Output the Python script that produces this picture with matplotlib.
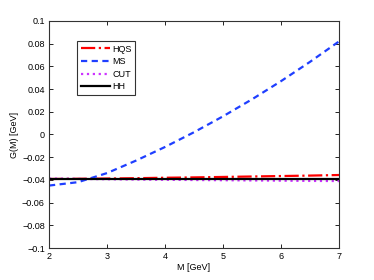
import numpy as np
import matplotlib.pyplot as plt

plt.rcParams['font.family'] = ['Liberation Sans', 'DejaVu Sans']

# values
M = [2.0, 2.5, 3.0, 3.5, 4.0, 4.5, 5.0, 5.5, 6.0, 6.5, 7.0]
hqs = [-0.0392, -0.0390, -0.0388, -0.0385, -0.0381, -0.0378, -0.0374, -0.0370, -0.0366, -0.0362, -0.0357]
ms = [-0.045, -0.042, -0.034, -0.023, -0.011, 0.002, 0.016, 0.031, 0.047, 0.064, 0.082]
cut = [-0.0388, -0.0391, -0.0394, -0.0397, -0.0399, -0.0401, -0.0403, -0.0405, -0.0407, -0.0409, -0.0410]
hh = [-0.0395, -0.0395, -0.0395, -0.0395, -0.0395, -0.0395, -0.0395, -0.0395, -0.0395, -0.0395, -0.0395]

fig = plt.figure(figsize=(3.74, 2.8), dpi=100)
ax = fig.add_axes([49/374, 1 - 248/280, 290/374, 227/280])

ax.plot(M, hqs, color='#ff0000', ls='-.', lw=1.6, label='HQS')
ax.plot(M, ms, color='#1f3fff', ls='--', lw=1.6, dashes=(2.8, 2), label='MS')
ax.plot(M, cut, color='#cc33ff', ls=':', lw=1.6, label='CUT')
ax.plot(M, hh, color='black', ls='-', lw=1.6, label='HH')

ax.set_xlim(2, 7)
ax.set_ylim(-0.1, 0.1)
ax.set_xticks([2, 3, 4, 5, 6, 7])
ax.set_yticks(np.arange(-0.1, 0.101, 0.02))
ax.set_yticklabels(['\u22120.1', '\u22120.08', '\u22120.06', '\u22120.04', '\u22120.02', '0',
                    '0.02', '0.04', '0.06', '0.08', '0.1'])
ax.tick_params(direction='in', length=3, labelsize=6.5, top=True, right=True, width=0.6, pad=3)
for s in ax.spines.values():
    s.set_linewidth(0.8)
    s.set_color('#333333')

ax.set_xlabel('M [GeV]', fontsize=6.5, labelpad=1)
ax.set_ylabel('G(M) [GeV]', fontsize=6.5, labelpad=2)

leg = ax.legend(loc='upper left', bbox_to_anchor=(28/290, 1 - 20/227), fontsize=6.5,
                frameon=True, fancybox=False, edgecolor='black', handlelength=3.2,
                handletextpad=0.3, borderpad=0.4, labelspacing=0.4, borderaxespad=0)
leg.get_frame().set_linewidth(0.8)

fig.savefig('out.png', dpi=100)
